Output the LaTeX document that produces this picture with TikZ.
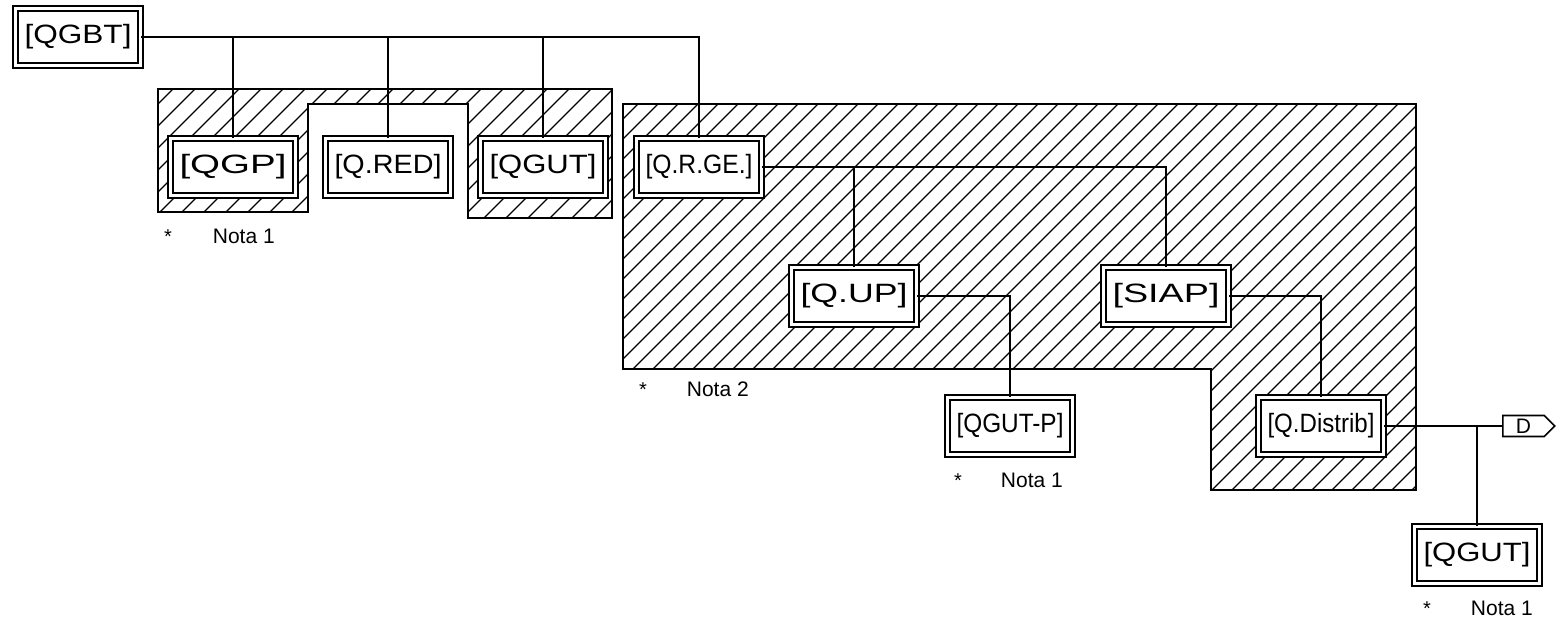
\documentclass[tikz,border=0pt]{standalone}
\usepackage{fontspec}
\setmainfont{Liberation Sans}
\usetikzlibrary{shapes.symbols}
\newcommand{\blab}[1]{\resizebox{107pt}{\height}{\fontsize{26.5pt}{26.5pt}\selectfont #1}}
\begin{document}
\begin{tikzpicture}[x=1pt,y=-1pt,line width=1.8pt,
  qbox/.style={draw, double, double distance=3.2pt, line width=1.8pt, fill=white,
    minimum width=125pt, minimum height=57pt, inner sep=0pt},
  hatchline/.style={line width=1.2pt},
  region/.style={line width=1.9pt},
  wire/.style={line width=1.8pt},
  notetxt/.style={inner sep=0pt, font=\fontsize{21pt}{21pt}\selectfont},
  startxt/.style={inner sep=0pt, font=\fontsize{20pt}{20pt}\selectfont, anchor=base},
  tag/.style={draw, signal, signal to=east, signal pointer angle=90, line width=1.6pt,
    minimum width=52pt, minimum height=21pt, inner sep=0pt, fill=white,
    font=\fontsize{21pt}{21pt}\selectfont}]
\useasboundingbox (0,0) rectangle (1562,619);

% hatched region 1
\begin{scope}
  \clip (158,89) -- (612,89) -- (612,218) -- (468,218) -- (468,104) -- (308,104) -- (308,212) -- (158,212) -- cycle;
  \foreach \k in {0,...,30} {\draw[hatchline] (20+\k*22,220) -- ++(150,-150);}
\end{scope}
\draw[region] (158,89) -- (612,89) -- (612,218) -- (468,218) -- (468,104) -- (308,104) -- (308,212) -- (158,212) -- cycle;

% hatched region 2
\begin{scope}
  \clip (623,104) -- (1416,104) -- (1416,490) -- (1211,490) -- (1211,369) -- (623,369) -- cycle;
  \foreach \k in {0,...,62} {\draw[hatchline] (230+\k*20,492) -- ++(400,-400);}
\end{scope}
\draw[region] (623,104) -- (1416,104) -- (1416,490) -- (1211,490) -- (1211,369) -- (623,369) -- cycle;

% boxes
\node[qbox] (qgbt)  at (78,37)     {\blab{[QGBT]}};
\node[qbox] (qgp)   at (233,167)   {\blab{[QGP]}};
\node[qbox] (qred)  at (388,167)   {\blab{[Q.RED]}};
\node[qbox] (qgut)  at (543,167)   {\blab{[QGUT]}};
\node[qbox] (qrge)  at (699,167)   {\blab{[Q.R.GE.]}};
\node[qbox] (qup)   at (854,296)   {\blab{[Q.UP]}};
\node[qbox] (siap)  at (1166,296)  {\blab{[SIAP]}};
\node[qbox] (qgutp) at (1010,426)  {\blab{[QGUT-P]}};
\node[qbox] (qdist) at (1321,426)  {\blab{[Q.Distrib]}};
\node[qbox] (qgutb) at (1477,555)  {\blab{[QGUT]}};
\node[tag, anchor=west] (dtag) at (1502,426) {D\hspace{9pt}};

% connectors
\coordinate (topend) at (qrge.north |- qgbt.east);
\draw[wire] (qgbt.east) -- (topend) -- (qrge.north);
\draw[wire] (qgp.north) -- (qgp.north |- qgbt.east);
\draw[wire] (qred.north) -- (qred.north |- qgbt.east);
\draw[wire] (qgut.north) -- (qgut.north |- qgbt.east);
\draw[wire] (qrge.east) -| (siap.north);
\draw[wire] (qup.north) -- (qup.north |- qrge.east);
\draw[wire] (qup.east) -| (qgutp.north);
\draw[wire] (siap.east) -| (qdist.north);
\draw[wire] (qdist.east) -- (dtag.west);
\draw[wire] (qgutb.north) -- (qgutb.north |- qdist.east);

% notes
\node[startxt] (s1) at (168,243) {*};
\node[notetxt, anchor=base west] (n1) at (212,243) {Nota 1};
\node[startxt] (s2) at (643,396) {*};
\node[notetxt, anchor=base west] (n2) at (686,396) {Nota 2};
\node[startxt] (s3) at (958,487) {*};
\node[notetxt, anchor=base west] (n3) at (1000,487) {Nota 1};
\node[startxt] (s4) at (1427,615) {*};
\node[notetxt, anchor=base west] (n4) at (1470,615) {Nota 1};
\end{tikzpicture}
\end{document}
